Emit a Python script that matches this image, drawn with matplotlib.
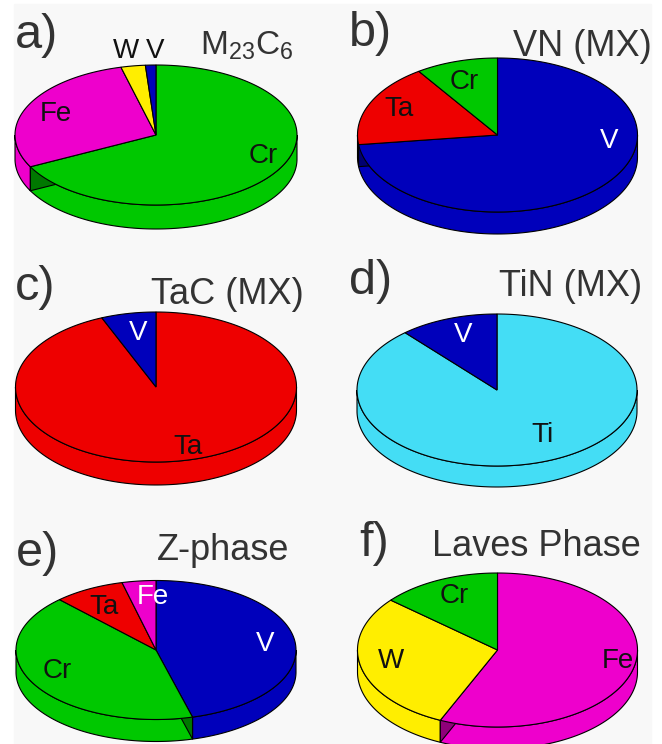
import matplotlib
matplotlib.use("Agg")
import matplotlib.pyplot as plt
import numpy as np
from matplotlib.patches import Polygon, Rectangle

plt.rcParams['font.family'] = ['Liberation Sans', 'DejaVu Sans']
plt.rcParams['mathtext.fontset'] = 'custom'
plt.rcParams['mathtext.rm'] = 'Liberation Sans'
plt.rcParams['mathtext.default'] = 'rm'

# composition of each precipitate (%)
a_labels = ['Cr', 'Fe', 'W', 'V']
a_vals = [67.5, 28.5, 2.8, 1.2]
b_labels = ['V', 'Ta', 'Cr']
b_vals = [73.0, 17.5, 9.5]
c_labels = ['Ta', 'V']
c_vals = [93.7, 6.3]
d_labels = ['Ti', 'V']
d_vals = [88.6, 11.4]
e_labels = ['V', 'Cr', 'Ta', 'Fe']
e_vals = [45.8, 42.1, 8.2, 3.9]
f_labels = ['Fe', 'W', 'Cr']
f_vals = [56.7, 29.5, 13.8]

titles = ['M$_{23}$C$_6$', 'VN (MX)', 'TaC (MX)', 'TiN (MX)', 'Z-phase', 'Laves Phase']
letters = ['a)', 'b)', 'c)', 'd)', 'e)', 'f)']

colors = {'Cr': '#00c800', 'Fe': '#ee00cc', 'W': '#ffee00',
          'V': '#0000bb', 'Ta': '#ee0000', 'Ti': '#44ddf5'}

# layout in pixels: centre x, centre y, half width, half height, depth
pies = [
    (156, 135, 141, 70, 24),
    (497.5, 135, 140, 77, 22),
    (156, 387, 140.5, 75, 23),
    (497, 390, 140, 76, 21),
    (156, 650, 140, 69.5, 22),
    (497.5, 650, 140, 77, 22),
]
letter_pos = [(15, 36), (349, 33), (15, 287), (349, 281), (16, 554), (359, 543)]
title_pos = [(200, 46), (513, 47), (151, 294), (499, 286), (157, 550), (432, 546)]
title_size = [24, 26, 26, 26, 26, 26]
label_pos = [
    [(263, 156), (56, 114), (126, 51), (155, 51)],
    [(609, 141), (399, 109), (464, 82)],
    [(188, 447), (138, 333)],
    [(543, 435), (463, 335)],
    [(265, 644), (57, 671), (104, 607), (153, 597)],
    [(618, 661), (391, 661), (454, 596)],
]
white_labels = [[], ['V'], ['V'], ['V'], ['V', 'Fe'], []]

data = [(a_labels, a_vals), (b_labels, b_vals), (c_labels, c_vals),
        (d_labels, d_vals), (e_labels, e_vals), (f_labels, f_vals)]

fig = plt.figure(figsize=(6.62, 7.44), dpi=100)
ax = fig.add_axes([0, 0, 1, 1])
ax.set_xlim(0, 662)
ax.set_ylim(744, 0)
ax.axis('off')
ax.add_patch(Rectangle((14, 4), 637, 745, color='#f8f8f8', zorder=0))

lw = 0.8


def rim(cx, cy, a, b, t, dz=0):
    t = np.radians(t)
    return np.column_stack([cx + a * np.cos(t), cy - b * np.sin(t) + dz])


def darker(c, f=0.6):
    r, g, b_ = matplotlib.colors.to_rgb(c)
    return (r * f, g * f, b_ * f)


for k, (labels, vals) in enumerate(data):
    cx, cy, a, b, dz = pies[k]
    fr = np.array(vals) / np.sum(vals)
    bounds = 90 - 360 * np.concatenate([[0], np.cumsum(fr)])
    # side walls, front half only
    for i, lab in enumerate(labels):
        hi, lo = bounds[i], bounds[i + 1]
        for m in range(-2, 3):
            s0, s1 = max(lo, 180 + 360 * m), min(hi, 360 + 360 * m)
            if s1 > s0:
                t = np.linspace(s0, s1, 120)
                top = rim(cx, cy, a, b, t)
                bot = rim(cx, cy, a, b, t[::-1], dz)
                ax.add_patch(Polygon(np.vstack([top, bot]), closed=True,
                                     fc=colors[lab], ec='black', lw=lw, zorder=1))
    # radial faces at the front boundaries
    for i in range(1, len(labels)):
        tb = bounds[i] % 360
        if 180 < tb < 360:
            lab = labels[i - 1] if tb < 270 else labels[i]
            p = rim(cx, cy, a, b, [tb])[0]
            face = [(cx, cy), tuple(p), (p[0], p[1] + dz), (cx, cy + dz)]
            ax.add_patch(Polygon(face, closed=True, fc=darker(colors[lab]),
                                 ec='black', lw=lw, zorder=2))
    # top surface
    for i, lab in enumerate(labels):
        t = np.linspace(bounds[i], bounds[i + 1], 200)
        pts = np.vstack([[cx, cy], rim(cx, cy, a, b, t)])
        ax.add_patch(Polygon(pts, closed=True, fc=colors[lab], ec='black',
                             lw=lw, zorder=3))
    for lab, (x, y) in zip(labels, label_pos[k]):
        col = 'white' if lab in white_labels[k] else '#111111'
        ax.text(x, y, lab, fontsize=20, color=col, ha='center', va='center', zorder=5)
    lx, ly = letter_pos[k]
    ax.text(lx, ly, letters[k], fontsize=35, color='#333333', ha='left', va='center', zorder=5)
    tx, ty = title_pos[k]
    ax.text(tx, ty, titles[k], fontsize=title_size[k], color='#333333', ha='left',
            va='center', zorder=5)

fig.savefig('out.png', dpi=100, facecolor='white')
